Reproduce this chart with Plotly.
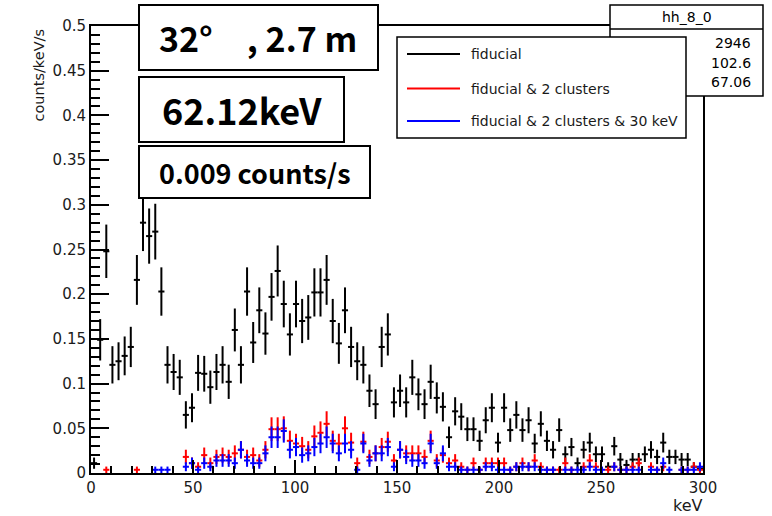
import numpy as np
import plotly.graph_objects as go

# Histogram binning (keV)
E_MIN, E_MAX, N_BINS = 0.0, 300.0, 100
# Rate of one event in one bin (counts/keV/s); sets the Poisson error size
ONE_COUNT = 0.0036

fiducial = [
    0.011, 0.149, 0.248, 0.121, 0.125, 0.131, 0.141, 0.216, 0.280, 0.265,
    0.270, 0.203, 0.121, 0.113, 0.107, 0.065, 0.073, 0.112, 0.111, 0.096,
    0.113, 0.121, 0.102, 0.160, 0.121, 0.203, 0.146, 0.182, 0.156, 0.197,
    0.226, 0.189, 0.155, 0.189, 0.170, 0.174, 0.202, 0.202, 0.216, 0.170,
    0.145, 0.182, 0.141, 0.125, 0.121, 0.092, 0.077, 0.141, 0.155, 0.079,
    0.092, 0.079, 0.107, 0.088, 0.077, 0.102, 0.084, 0.074, 0.040, 0.069,
    0.063, 0.049, 0.049, 0.036, 0.059, 0.073, 0.034, 0.073, 0.048, 0.065,
    0.048, 0.059, 0.033, 0.055, 0.036, 0.026, 0.048, 0.021, 0.029, 0.011,
    0.026, 0.034, 0.021, 0.021, 0.007, 0.030, 0.015, 0.009, 0.015, 0.015,
    0.021, 0.026, 0.018, 0.034, 0.018, 0.018, 0.015, 0.015, 0.007, 0.005,
]

fiducial_2cl = [
    0, 0, 0.0036, 0, 0, 0, 0, 0.0036, 0, 0,
    0, 0, 0, 0, 0, 0.018, 0.011, 0.007, 0.020, 0.011,
    0.018, 0.020, 0.018, 0.022, 0.026, 0.018, 0.020, 0.014, 0.026, 0.049,
    0.049, 0.050, 0.036, 0.033, 0.030, 0.026, 0.041, 0.045, 0.055, 0.036,
    0.033, 0.050, 0.034, 0.011, 0.035, 0.018, 0.022, 0.029, 0.035, 0.014,
    0.026, 0.022, 0.022, 0.022, 0.018, 0.036, 0.014, 0.020, 0.011, 0.014,
    0.007, 0.0036, 0.011, 0.0036, 0.011, 0.011, 0.011, 0.011, 0.0036, 0.007,
    0.011, 0.007, 0.014, 0.007, 0.0036, 0.0036, 0.0036, 0.011, 0.0036, 0,
    0.007, 0.014, 0.007, 0, 0.0036, 0.007, 0.0036, 0.0036, 0.007, 0.011,
    0, 0.007, 0.0036, 0.007, 0, 0, 0.0036, 0.0036, 0.007, 0.0036,
]

fiducial_2cl_30 = [
    0, 0, 0, 0, 0, 0, 0, 0, 0, 0,
    0.0036, 0.0036, 0.0036, 0, 0, 0.007, 0.011, 0.0036, 0.011, 0.007,
    0.014, 0.014, 0.014, 0.011, 0.026, 0.014, 0.011, 0.011, 0.022, 0.040,
    0.040, 0.047, 0.026, 0.029, 0.020, 0.022, 0.029, 0.033, 0.040, 0.033,
    0.022, 0.033, 0.026, 0.0036, 0.033, 0.014, 0.022, 0.022, 0.029, 0.007,
    0.026, 0.018, 0.014, 0.014, 0.011, 0.033, 0.011, 0.022, 0.007, 0.007,
    0.0036, 0.0036, 0.0036, 0.0036, 0.007, 0.007, 0.0036, 0.0036, 0.0036, 0.007,
    0.007, 0.007, 0.007, 0.0036, 0.0036, 0.0036, 0, 0.0036, 0.0036, 0.0036,
    0.0036, 0.007, 0.0036, 0.0036, 0, 0.007, 0.0036, 0.0036, 0.0036, 0.0036,
    0, 0.0036, 0.0036, 0.011, 0.0036, 0, 0.0036, 0.0036, 0.0036, 0.007,
]

series = [
    ("fiducial", fiducial, "black"),
    ("fiducial & 2 clusters", fiducial_2cl, "#ff0000"),
    ("fiducial & 2 clusters & 30 keV", fiducial_2cl_30, "#0000ff"),
]

stat_title = "hh_8_0"
stat_values = ["2946", "102.6", "67.06"]

ROOT_FONT = "DejaVu Sans"
JP_FONT = "Noto Sans CJK JP"

edges = np.linspace(E_MIN, E_MAX, N_BINS + 1)
centers = 0.5 * (edges[:-1] + edges[1:])
half_w = 0.5 * (edges[1] - edges[0])

fig = go.Figure()
for name, vals, col in series:
    v = np.asarray(vals, dtype=float)
    keep = v > 0  # empty bins are not drawn
    x = centers[keep]
    y = v[keep]
    err = np.sqrt(y * ONE_COUNT)
    fig.add_trace(go.Scatter(
        x=x, y=y, mode="markers", name=name, showlegend=False,
        marker=dict(size=1, color=col),
        error_y=dict(type="data", array=err, color=col, thickness=2, width=0),
        error_x=dict(type="constant", value=half_w, color=col, thickness=2, width=0),
        hoverinfo="skip",
    ))

# pixel -> paper helpers for the 772x516 canvas
L, R, T, B = 91, 703, 26, 473
def px(xp):
    return (xp - L) / (R - L)
def py(yp):
    return (B - yp) / (B - T)

shapes = []
annotations = []

def box(x0, y0, x1, y1, lw=2):
    shapes.append(dict(type="rect", xref="paper", yref="paper",
                       x0=px(x0), x1=px(x1), y0=py(y1), y1=py(y0),
                       line=dict(color="black", width=lw), fillcolor="white",
                       layer="above"))

def text(s, x, y, size, family=ROOT_FONT, xanchor="center", color="black", angle=0, yanchor="middle"):
    annotations.append(dict(text=s, xref="paper", yref="paper", x=px(x), y=py(y),
                            xanchor=xanchor, yanchor=yanchor, showarrow=False,
                            textangle=angle,
                            font=dict(family=family, size=size, color=color)))

# statistics box
box(610, 5, 763, 96, lw=1.5)
shapes.append(dict(type="line", xref="paper", yref="paper",
                   x0=px(610), x1=px(763), y0=py(29), y1=py(29),
                   line=dict(color="black", width=1.5), layer="above"))
text(stat_title, 687, 17, 14)
for i, s in enumerate(stat_values):
    text(s, 753, 43 + 19.5 * i, 14, xanchor="right")

# legend
box(397, 37, 686, 138, lw=1.5)
for i, (name, vals, col) in enumerate(series):
    yy = [54, 88.5, 121][i]
    shapes.append(dict(type="line", xref="paper", yref="paper",
                       x0=px(407), x1=px(460), y0=py(yy), y1=py(yy),
                       line=dict(color=col, width=2), layer="above"))
    text(name, 469, yy, 14, xanchor="left", color="#1a1a1a")

# info boxes
box(139, 5, 378, 70)
text("<b>32°\u3000, 2.7 m</b>", 258, 38, 34, family=JP_FONT)
box(139, 77, 344, 142)
text("<b>62.12keV</b>", 242, 109, 36, family=JP_FONT)
box(139, 146, 370, 198)
text("<b>0.009 counts/s</b>", 255, 172, 27, family=JP_FONT)

# axis titles
text("counts/keV/s", 38, 27, 14.5, angle=-90, yanchor="top", color="#1a1a1a")
text("keV", 705, 505, 16, xanchor="right", color="#1a1a1a")

fig.update_layout(
    width=772, height=516,
    margin=dict(l=L, r=772 - R, t=T, b=516 - B, pad=0),
    paper_bgcolor="white", plot_bgcolor="white",
    shapes=shapes, annotations=annotations,
    showlegend=False,
    xaxis=dict(range=[E_MIN, E_MAX], dtick=50, tick0=0,
               showgrid=False, zeroline=False,
               showline=True, linecolor="black", linewidth=2, mirror=True,
               ticks="inside", ticklen=13, tickwidth=1.5, tickcolor="black",
               minor=dict(ticks="inside", dtick=10, ticklen=7, tickwidth=1.5,
                          tickcolor="black", showgrid=False),
               tickfont=dict(family=ROOT_FONT, size=15, color="#1a1a1a")),
    yaxis=dict(range=[0, 0.5], dtick=0.05, tick0=0,
               showgrid=False, zeroline=False,
               showline=True, linecolor="black", linewidth=2, mirror=True,
               ticks="inside", ticklen=18, tickwidth=1.5, tickcolor="black",
               minor=dict(ticks="inside", dtick=0.01, ticklen=9, tickwidth=1.5,
                          tickcolor="black", showgrid=False),
               tickfont=dict(family=ROOT_FONT, size=15, color="#1a1a1a")),
)

fig.write_html("out.html", config={"displayModeBar": False})
